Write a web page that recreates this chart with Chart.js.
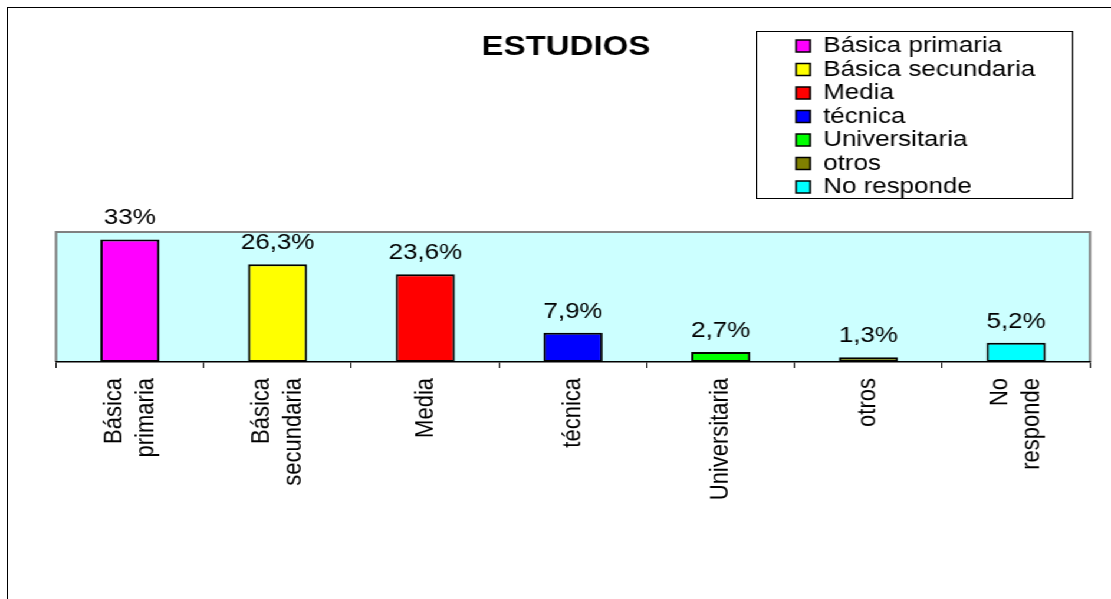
<!DOCTYPE html>
<html>
<head>
<meta charset="utf-8">
<script src="https://cdn.jsdelivr.net/npm/chart.js@4.4.1/dist/chart.umd.min.js"></script>
<style>
  html, body { margin: 0; padding: 0; background: #fff; overflow: hidden; }
  body { width: 1111px; height: 599px; position: relative; }
  #frame { position: absolute; left: 7px; top: 7px; width: 1200px; height: 700px;
           border-left: 1px solid #000; border-top: 1px solid #000; pointer-events: none; z-index: 5; }
  #stage { position: absolute; left: 0; top: 0; width: 942px; height: 599px;
           transform: scaleX(1.17940552); transform-origin: 0 0; }
  #mainWrap { position: absolute; left: 0; top: 0; width: 942px; height: 599px; }
  #legendBox { position: absolute; left: 641px; top: 31px; width: 266.8px; height: 166px;
               border: 1px solid #000; background: #fff; overflow: hidden; }
  #legendInner { position: relative; width: 620px; height: 320px; }
</style>
</head>
<body>
<div id="frame"></div>
<div id="stage">
  <div id="mainWrap"><canvas id="main"></canvas></div>
  <div id="legendBox"><div id="legendInner"><canvas id="leg"></canvas></div></div>
</div>
<script>
// ---- data ----
const chartTitle = 'ESTUDIOS';
const categories = ['Básica primaria', 'Básica secundaria', 'Media', 'técnica', 'Universitaria', 'otros', 'No responde'];
const values = [33, 26.3, 23.6, 7.9, 2.7, 1.3, 5.2];
const barColors = ['#FF00FF', '#FFFF00', '#FF0000', '#0000FF', '#00FF00', '#808000', '#00FFFF'];
const tickLines = [['Básica', 'primaria'], ['Básica', 'secundaria'], ['Media'], ['técnica'], ['Universitaria'], ['otros'], ['No', 'responde']];
const valueLabels = values.map(v => String(v).replace('.', ',') + '%');

// ---- styling ----
const FONT = "'Liberation Sans', Arial, sans-serif";
const LABEL_SIZE = 22;
const LINE_H = 1.22;
const HALF_LINE = LABEL_SIZE * LINE_H / 2;

const plotBackground = {
  id: 'plotBackground',
  beforeDraw(chart) {
    const {ctx, chartArea: a} = chart;
    ctx.save();
    ctx.fillStyle = '#CCFFFF';
    ctx.fillRect(a.left, a.top, a.right - a.left, a.bottom - a.top);
    ctx.strokeStyle = '#808080';
    ctx.lineWidth = 2;
    ctx.beginPath();
    ctx.moveTo(a.left, a.bottom);
    ctx.lineTo(a.left, a.top);
    ctx.lineTo(a.right, a.top);
    ctx.lineTo(a.right, a.bottom);
    ctx.stroke();
    ctx.restore();
  }
};

const barValueLabels = {
  id: 'barValueLabels',
  afterDatasetsDraw(chart) {
    const {ctx} = chart;
    const meta = chart.getDatasetMeta(0);
    ctx.save();
    ctx.font = LABEL_SIZE + 'px ' + FONT;
    ctx.fillStyle = '#000';
    ctx.textAlign = 'center';
    ctx.textBaseline = 'alphabetic';
    meta.data.forEach((bar, i) => {
      ctx.fillText(valueLabels[i], bar.x, bar.y - 15);
    });
    ctx.restore();
  }
};

new Chart(document.getElementById('main'), {
  type: 'bar',
  data: {
    labels: categories,
    datasets: [{
      data: values,
      backgroundColor: barColors,
      borderColor: '#000',
      borderWidth: 2,
      borderSkipped: false,
      categoryPercentage: 1,
      barPercentage: 0.4
    }]
  },
  options: {
    responsive: true,
    maintainAspectRatio: false,
    animation: false,
    events: [],
    layout: { padding: { left: 35.5, right: 17.8, top: 0, bottom: 0 } },
    scales: {
      x: {
        offset: true,
        grid: { display: true, offset: true, drawOnChartArea: false, drawTicks: true,
                tickLength: 6, color: '#000', lineWidth: 1 },
        border: { display: true, color: '#000', width: 1.5 },
        ticks: {
          autoSkip: false,
          minRotation: 90,
          maxRotation: 90,
          padding: 10,
          labelOffset: -HALF_LINE,
          color: '#000',
          font: (c) => ({
            family: FONT,
            size: LABEL_SIZE,
            lineHeight: (tickLines[c.index] && tickLines[c.index].length === 1) ? HALF_LINE + 'px' : LINE_H
          }),
          callback: (value, index) => tickLines[index].length === 1 ? ['', tickLines[index][0]] : tickLines[index]
        },
        afterFit: (s) => { s.height = 237; }
      },
      y: {
        display: true,
        min: 0,
        max: 35,
        grid: { display: false },
        border: { display: false },
        ticks: { display: false },
        afterFit: (s) => { s.width = 12; }
      }
    },
    plugins: {
      legend: { display: false },
      tooltip: { enabled: false },
      title: {
        display: true,
        text: chartTitle,
        color: '#000',
        font: { family: FONT, size: 28, weight: 'bold', lineHeight: 1.2 },
        padding: { top: 30.7, bottom: 167.7 }
      }
    }
  },
  plugins: [plotBackground, barValueLabels]
});

// legend drawn by Chart.js's legend plugin, placed in its own framed box
new Chart(document.getElementById('leg'), {
  type: 'bar',
  data: {
    labels: categories,
    datasets: [{ data: values, backgroundColor: barColors, hidden: true }]
  },
  options: {
    responsive: true,
    maintainAspectRatio: false,
    animation: false,
    events: [],
    layout: { padding: { left: 31.5, top: 1.5, right: 0, bottom: 0 } },
    scales: { x: { display: false }, y: { display: false } },
    plugins: {
      tooltip: { enabled: false },
      title: { display: false },
      legend: {
        display: true,
        position: 'left',
        align: 'start',
        labels: {
          color: '#000',
          font: { family: FONT, size: LABEL_SIZE },
          boxWidth: 12,
          boxHeight: 12,
          padding: 1.5,
          generateLabels: () => categories.map((c, i) => ({
            text: c,
            fillStyle: barColors[i],
            strokeStyle: '#000',
            lineWidth: 1.5,
            hidden: false,
            index: i
          }))
        }
      }
    }
  }
});
</script>
</body>
</html>
